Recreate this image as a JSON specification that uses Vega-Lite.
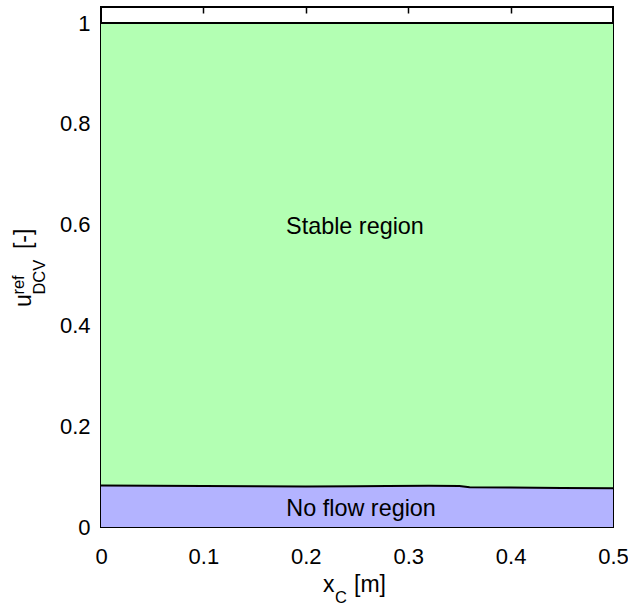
{
  "$schema": "https://vega.github.io/schema/vega-lite/v6.json",
  "width": 512,
  "height": 520,
  "autosize": "none",
  "padding": {"left": 101, "top": 7, "right": 15, "bottom": 85},
  "background": "white",
  "config": {
    "view": {"stroke": "black", "strokeWidth": 2},
    "font": "Liberation Sans",
    "axis": {"grid": false, "domain": false, "labelFont": "Liberation Sans", "labelFontSize": 22, "labelColor": "black", "labelFlush": false, "labelOverlap": false},
    "text": {"font": "Liberation Sans", "color": "black"}
  },
  "datasets": {
    "boundary": [
      {"x": 0.0, "lower": 0.0823, "upper": 1},
      {"x": 0.05, "lower": 0.0818, "upper": 1},
      {"x": 0.1, "lower": 0.0813, "upper": 1},
      {"x": 0.15, "lower": 0.0808, "upper": 1},
      {"x": 0.2, "lower": 0.0805, "upper": 1},
      {"x": 0.25, "lower": 0.0808, "upper": 1},
      {"x": 0.28, "lower": 0.0814, "upper": 1},
      {"x": 0.32, "lower": 0.0818, "upper": 1},
      {"x": 0.35, "lower": 0.0815, "upper": 1},
      {"x": 0.36, "lower": 0.079, "upper": 1},
      {"x": 0.4, "lower": 0.0782, "upper": 1},
      {"x": 0.45, "lower": 0.0775, "upper": 1},
      {"x": 0.5, "lower": 0.0768, "upper": 1}
    ],
    "one": [{}]
  },
  "resolve": {"axis": {"x": "independent", "y": "independent"}},
  "layer": [
    {
      "data": {"name": "boundary"},
      "mark": {"type": "area", "color": "#b3ffb3", "opacity": 1},
      "encoding": {
        "x": {"field": "x", "type": "quantitative", "scale": {"domain": [0, 0.5], "nice": false, "zero": false},
              "axis": {"orient": "bottom", "values": [0, 0.1, 0.2, 0.3, 0.4, 0.5], "format": ".1~f", "title": null, "ticks": false, "tickSize": 0, "labelPadding": 19}},
        "y": {"field": "lower", "type": "quantitative", "scale": {"domain": [0, 1.032], "nice": false, "zero": false},
              "axis": {"orient": "left", "values": [0, 0.2, 0.4, 0.6, 0.8, 1], "format": ".1~f", "title": null, "ticks": false, "tickSize": 0, "labelPadding": 11}},
        "y2": {"field": "upper"}
      }
    },
    {
      "data": {"name": "boundary"},
      "mark": {"type": "area", "color": "#b3b3ff", "opacity": 1},
      "encoding": {
        "x": {"field": "x", "type": "quantitative", "axis": null},
        "y": {"field": "lower", "type": "quantitative", "axis": null},
        "y2": {"datum": 0}
      }
    },
    {
      "data": {"name": "boundary"},
      "mark": {"type": "line", "color": "black", "strokeWidth": 2},
      "encoding": {
        "x": {"field": "x", "type": "quantitative", "axis": null},
        "y": {"field": "lower", "type": "quantitative", "axis": null}
      }
    },
    {
      "data": {"name": "boundary"},
      "mark": {"type": "line", "color": "black", "strokeWidth": 2},
      "encoding": {
        "x": {"field": "x", "type": "quantitative",
              "axis": {"orient": "top", "values": [0.1, 0.2, 0.3, 0.4], "labels": false, "domain": false, "ticks": true, "tickSize": -6, "tickColor": "black", "tickWidth": 1.5, "title": null}},
        "y": {"field": "upper", "type": "quantitative", "axis": null}
      }
    },
    {
      "data": {"name": "one"},
      "mark": {"type": "text", "fontSize": 23.4, "align": "center", "baseline": "middle"},
      "encoding": {
        "x": {"datum": 0.248, "type": "quantitative", "axis": null},
        "y": {"datum": 0.595, "type": "quantitative", "axis": null},
        "text": {"value": "Stable region"}
      }
    },
    {
      "data": {"name": "one"},
      "mark": {"type": "text", "fontSize": 23.4, "align": "center", "baseline": "middle"},
      "encoding": {
        "x": {"datum": 0.254, "type": "quantitative", "axis": null},
        "y": {"datum": 0.036, "type": "quantitative", "axis": null},
        "text": {"value": "No flow region"}
      }
    },
    {
      "data": {"name": "one"},
      "mark": {"type": "text", "fontSize": 23, "align": "left", "baseline": "alphabetic"},
      "encoding": {
        "x": {"datum": 0.2168, "type": "quantitative", "axis": null},
        "y": {"datum": -0.129, "type": "quantitative", "axis": null},
        "text": {"value": "x"}
      }
    },
    {
      "data": {"name": "one"},
      "mark": {"type": "text", "fontSize": 16.5, "align": "left", "baseline": "alphabetic"},
      "encoding": {
        "x": {"datum": 0.2285, "type": "quantitative", "axis": null},
        "y": {"datum": -0.1508, "type": "quantitative", "axis": null},
        "text": {"value": "C"}
      }
    },
    {
      "data": {"name": "one"},
      "mark": {"type": "text", "fontSize": 23, "align": "left", "baseline": "alphabetic"},
      "encoding": {
        "x": {"datum": 0.2471, "type": "quantitative", "axis": null},
        "y": {"datum": -0.129, "type": "quantitative", "axis": null},
        "text": {"value": "[m]"}
      }
    },
    {
      "data": {"name": "one"},
      "mark": {"type": "text", "fontSize": 23, "align": "left", "baseline": "alphabetic", "angle": 270},
      "encoding": {
        "x": {"datum": -0.0679, "type": "quantitative", "axis": null},
        "y": {"datum": 0.4365, "type": "quantitative", "axis": null},
        "text": {"value": "u"}
      }
    },
    {
      "data": {"name": "one"},
      "mark": {"type": "text", "fontSize": 16.5, "align": "left", "baseline": "alphabetic", "angle": 270},
      "encoding": {
        "x": {"datum": -0.0752, "type": "quantitative", "axis": null},
        "y": {"datum": 0.4613, "type": "quantitative", "axis": null},
        "text": {"value": "ref"}
      }
    },
    {
      "data": {"name": "one"},
      "mark": {"type": "text", "fontSize": 16.5, "align": "left", "baseline": "alphabetic", "angle": 270},
      "encoding": {
        "x": {"datum": -0.0547, "type": "quantitative", "axis": null},
        "y": {"datum": 0.4613, "type": "quantitative", "axis": null},
        "text": {"value": "DCV"}
      }
    },
    {
      "data": {"name": "one"},
      "mark": {"type": "text", "fontSize": 23, "align": "left", "baseline": "alphabetic", "angle": 270},
      "encoding": {
        "x": {"datum": -0.0679, "type": "quantitative", "axis": null},
        "y": {"datum": 0.5516, "type": "quantitative", "axis": null},
        "text": {"value": "[-]"}
      }
    }
  ]
}
